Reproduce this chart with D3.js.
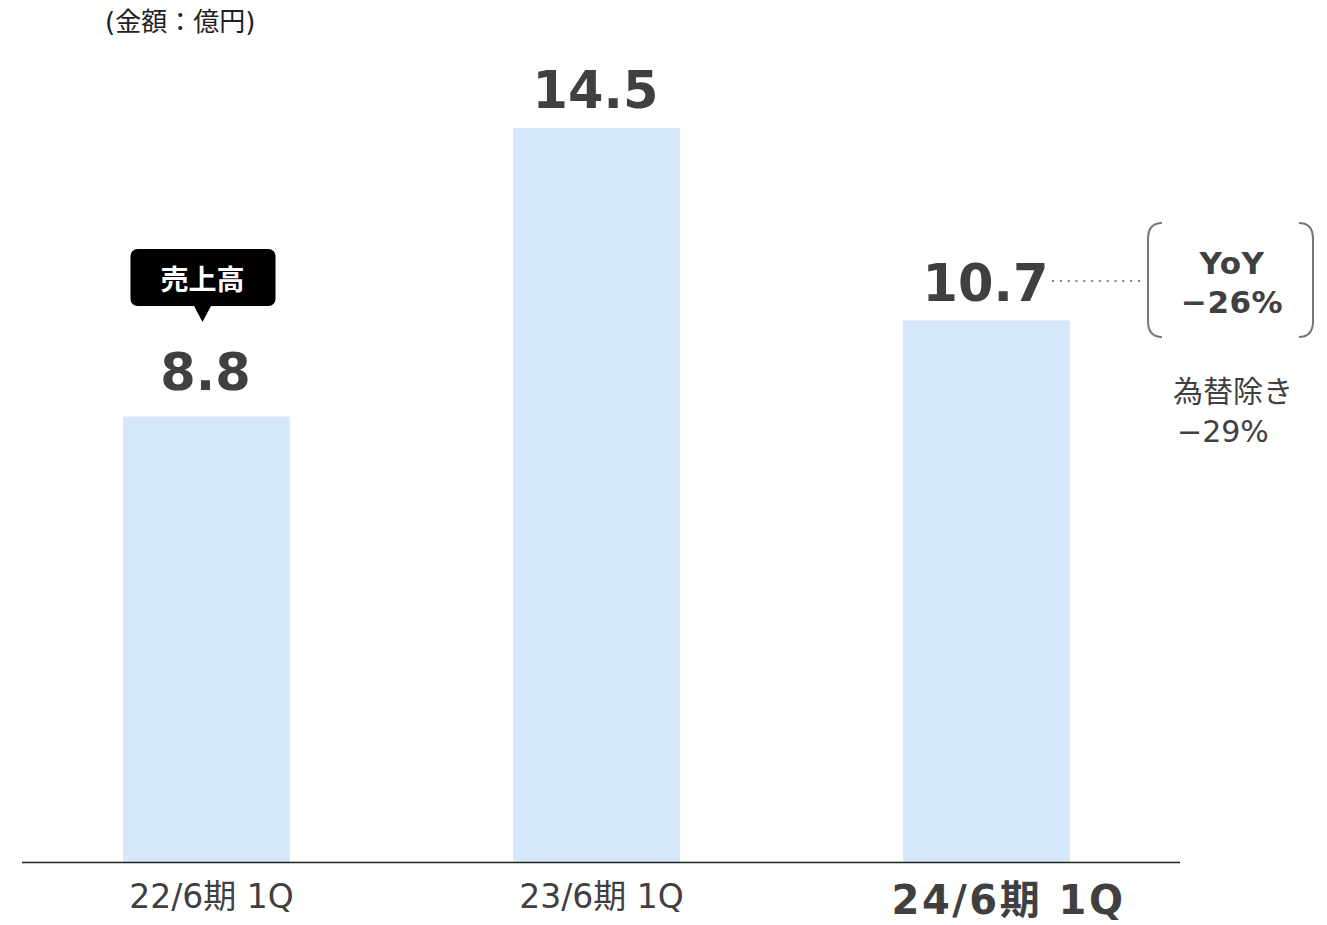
<!DOCTYPE html>
<html>
<head>
<meta charset="utf-8">
<script src="https://cdn.jsdelivr.net/npm/d3@7"></script>
<style>
  body { margin: 0; background: #fff; }
  svg { display: block; font-family: "DejaVu Sans", "Noto Sans CJK JP", sans-serif; }
</style>
</head>
<body>
<script>
const svgWidth = 1327;
const svgHeight = 925;

// data
const categories = ['22/6期 1Q', '23/6期 1Q', '24/6期 1Q'];
const sales = [8.8, 14.5, 10.7];
const unitLabel = '(金額：億円)';
const bubbleLabel = '売上高';
const yoyLines = ['YoY', '−26%'];
const fxLines = ['為替除き', '−29%'];

const textColor = '#404040';
const labelGap = [27, 20, 19]; // 数値ラベルと棒の間隔

const svg = d3.select('body').append('svg')
  .attr('width', svgWidth)
  .attr('height', svgHeight);

const x = d3.scaleBand()
  .domain(categories)
  .range([11.5, 1181.5])
  .paddingInner(0.572)
  .paddingOuter(0.286);

const y = d3.scaleLinear()
  .domain([0, 14.5])
  .range([862, 128]);

// bars
svg.selectAll('.bar')
  .data(sales)
  .enter()
  .append('rect')
  .attr('class', 'bar')
  .attr('x', (d, i) => x(categories[i]))
  .attr('y', d => y(d))
  .attr('width', x.bandwidth())
  .attr('height', d => y(0) - y(d))
  .attr('fill', '#d5e8fb');

// baseline
svg.append('line')
  .attr('x1', 22).attr('x2', 1180)
  .attr('y1', y(0) + 0.5).attr('y2', y(0) + 0.5)
  .attr('stroke', '#222')
  .attr('stroke-width', 1.3);

// value labels
svg.selectAll('.val')
  .data(sales)
  .enter()
  .append('text')
  .attr('class', 'val')
  .attr('x', (d, i) => x(categories[i]) + x.bandwidth() / 2 - 1)
  .attr('y', (d, i) => y(d) - labelGap[i])
  .attr('text-anchor', 'middle')
  .attr('font-size', 51)
  .attr('font-weight', 'bold')
  .attr('fill', textColor)
  .text(d => d.toFixed(1));

// category labels
svg.selectAll('.cat')
  .data(categories)
  .enter()
  .append('text')
  .attr('class', 'cat')
  .attr('x', (d, i) => x(d) + x.bandwidth() / 2 + (i === 2 ? 22 : 5))
  .attr('y', (d, i) => i === 2 ? 914 : 908)
  .attr('text-anchor', 'middle')
  .attr('font-size', (d, i) => i === 2 ? 40 : 33)
  .attr('letter-spacing', (d, i) => i === 2 ? 2.5 : 0)
  .attr('font-weight', (d, i) => i === 2 ? 'bold' : 'normal')
  .attr('fill', textColor)
  .text(d => d);

// unit
svg.append('text')
  .attr('x', 105).attr('y', 31)
  .attr('font-size', 26)
  .attr('fill', '#222')
  .text(unitLabel);

// bubble above first bar
const bx = x(categories[0]) + x.bandwidth() / 2 - 4;
const bubble = svg.append('g');
bubble.append('rect')
  .attr('x', bx - 72).attr('y', 249)
  .attr('width', 145).attr('height', 57)
  .attr('rx', 7)
  .attr('fill', '#000');
bubble.append('path')
  .attr('d', `M${bx - 9},305 L${bx},322 L${bx + 9},305 Z`)
  .attr('fill', '#000');
bubble.append('text')
  .attr('x', bx).attr('y', 290)
  .attr('text-anchor', 'middle')
  .attr('font-size', 28)
  .attr('font-weight', 'bold')
  .attr('fill', '#fff')
  .text(bubbleLabel);

// dotted connector
const ly = 281;
svg.append('line')
  .attr('x1', 1052).attr('x2', 1140)
  .attr('y1', ly).attr('y2', ly)
  .attr('stroke', '#888')
  .attr('stroke-width', 2.2)
  .attr('stroke-dasharray', '2.2,5.6');

// brackets
const bt = 223, bb = 337;
svg.append('path')
  .attr('d', `M1162,${bt} Q1148,${bt} 1148,${bt + 16} L1148,${bb - 16} Q1148,${bb} 1162,${bb}`)
  .attr('fill', 'none').attr('stroke', '#777').attr('stroke-width', 2);
svg.append('path')
  .attr('d', `M1299,${bt} Q1313,${bt} 1313,${bt + 16} L1313,${bb - 16} Q1313,${bb} 1299,${bb}`)
  .attr('fill', 'none').attr('stroke', '#777').attr('stroke-width', 2);

svg.selectAll('.yoy')
  .data(yoyLines)
  .enter()
  .append('text')
  .attr('class', 'yoy')
  .attr('x', 1232)
  .attr('y', (d, i) => 274 + i * 39)
  .attr('text-anchor', 'middle')
  .attr('font-size', 31)
  .attr('letter-spacing', 0.5)
  .attr('font-weight', 'bold')
  .attr('fill', textColor)
  .text(d => d);

svg.selectAll('.fx')
  .data(fxLines)
  .enter()
  .append('text')
  .attr('class', 'fx')
  .attr('x', (d, i) => i === 0 ? 1173 : 1177)
  .attr('y', (d, i) => 402 + i * 40)
  .attr('font-size', 30)
  .attr('fill', textColor)
  .text(d => d);
</script>
</body>
</html>
